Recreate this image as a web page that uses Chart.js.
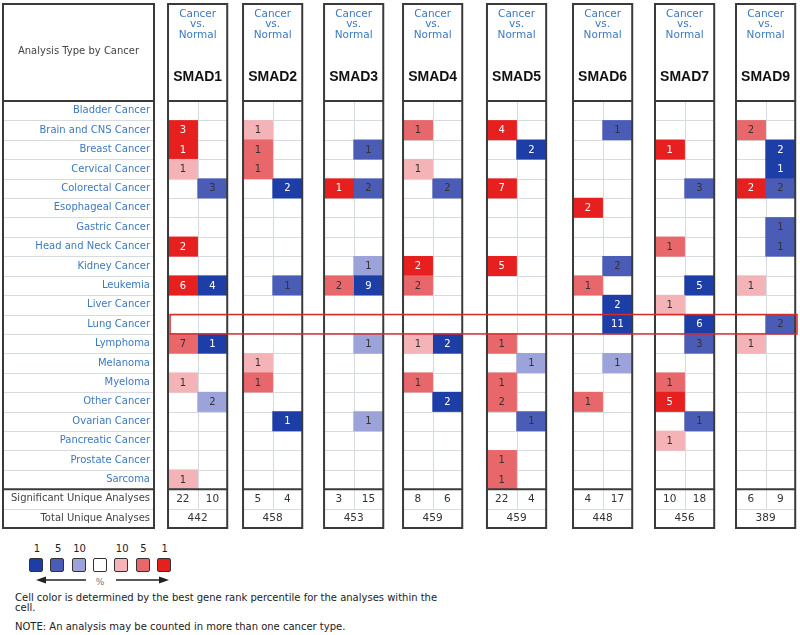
<!DOCTYPE html>
<html>
<head>
<meta charset="utf-8">
<title>SMAD family in Oncomine</title>
<script src="https://cdn.jsdelivr.net/npm/chart.js@4.4.1/dist/chart.umd.min.js"></script>
<style>
  body { margin: 0; background: #fff; font-family: "DejaVu Sans", sans-serif; }
  #wrap { position: relative; width: 800px; height: 635px; overflow: hidden; }
  #chart { position: absolute; left: 0; top: 0; }
  .kl { position: absolute; top: 543px; width: 20px; margin-left: -10px; text-align: center; font-size: 10px; color: #222; }
  .sw { position: absolute; top: 558px; width: 12px; height: 12px; border: 1.5px solid #333; border-radius: 2px; }
  .txt { position: absolute; left: 15px; font-size: 10px; line-height: 9.5px; color: #222; white-space: nowrap; }
</style>
</head>
<body>
<div id="wrap">
  <canvas id="chart" width="800" height="532"></canvas>
  <div id="key"></div>
  <svg style="position:absolute;left:0;top:574px" width="180" height="14">
    <line x1="44" y1="6" x2="86" y2="6" stroke="#222" stroke-width="1.5"/>
    <polygon points="36,6 46,2.5 46,9.5" fill="#222"/>
    <line x1="116" y1="6" x2="160" y2="6" stroke="#222" stroke-width="1.5"/>
    <polygon points="169,6 159,2.5 159,9.5" fill="#222"/>
    <text x="100" y="11" font-size="9" fill="#777" text-anchor="middle" font-family="DejaVu Sans">%</text>
  </svg>
  <div class="txt" style="top:593px">Cell color is determined by the best gene rank percentile for the analyses within the<br>cell.</div>
  <div class="txt" style="top:622px">NOTE: An analysis may be counted in more than one cancer type.</div>
</div>
<script>
const cancers = ['Bladder Cancer', 'Brain and CNS Cancer', 'Breast Cancer', 'Cervical Cancer',
  'Colorectal Cancer', 'Esophageal Cancer', 'Gastric Cancer', 'Head and Neck Cancer',
  'Kidney Cancer', 'Leukemia', 'Liver Cancer', 'Lung Cancer', 'Lymphoma', 'Melanoma',
  'Myeloma', 'Other Cancer', 'Ovarian Cancer', 'Pancreatic Cancer', 'Prostate Cancer', 'Sarcoma'];
const genes = ['SMAD1', 'SMAD2', 'SMAD3', 'SMAD4', 'SMAD5', 'SMAD6', 'SMAD7', 'SMAD9'];

// number of significant analyses per cancer type (0 = none), red = over, blue = under
// *Rank = best gene rank percentile in the cell (1, 5 or 10 %)
const smad1Up       = [0,3,1,1,0,0,0,2,0,6,0,0,7,0,1,0,0,0,0,1];
const smad1UpRank   = [0,1,1,10,0,0,0,1,0,1,0,0,5,0,10,0,0,0,0,10];
const smad1Down     = [0,0,0,0,3,0,0,0,0,4,0,0,1,0,0,2,0,0,0,0];
const smad1DownRank = [0,0,0,0,5,0,0,0,0,1,0,0,1,0,0,10,0,0,0,0];

const smad2Up       = [0,1,1,1,0,0,0,0,0,0,0,0,0,1,1,0,0,0,0,0];
const smad2UpRank   = [0,10,5,5,0,0,0,0,0,0,0,0,0,10,5,0,0,0,0,0];
const smad2Down     = [0,0,0,0,2,0,0,0,0,1,0,0,0,0,0,0,1,0,0,0];
const smad2DownRank = [0,0,0,0,1,0,0,0,0,5,0,0,0,0,0,0,1,0,0,0];

const smad3Up       = [0,0,0,0,1,0,0,0,0,2,0,0,0,0,0,0,0,0,0,0];
const smad3UpRank   = [0,0,0,0,1,0,0,0,0,5,0,0,0,0,0,0,0,0,0,0];
const smad3Down     = [0,0,1,0,2,0,0,0,1,9,0,0,1,0,0,0,1,0,0,0];
const smad3DownRank = [0,0,5,0,5,0,0,0,10,1,0,0,10,0,0,0,10,0,0,0];

const smad4Up       = [0,1,0,1,0,0,0,0,2,2,0,0,1,0,1,0,0,0,0,0];
const smad4UpRank   = [0,5,0,10,0,0,0,0,1,5,0,0,10,0,5,0,0,0,0,0];
const smad4Down     = [0,0,0,0,2,0,0,0,0,0,0,0,2,0,0,2,0,0,0,0];
const smad4DownRank = [0,0,0,0,5,0,0,0,0,0,0,0,1,0,0,1,0,0,0,0];

const smad5Up       = [0,4,0,0,7,0,0,0,5,0,0,0,1,0,1,2,0,0,1,1];
const smad5UpRank   = [0,1,0,0,1,0,0,0,1,0,0,0,5,0,5,5,0,0,5,5];
const smad5Down     = [0,0,2,0,0,0,0,0,0,0,0,0,0,1,0,0,1,0,0,0];
const smad5DownRank = [0,0,1,0,0,0,0,0,0,0,0,0,0,10,0,0,5,0,0,0];

const smad6Up       = [0,0,0,0,0,2,0,0,0,1,0,0,0,0,0,1,0,0,0,0];
const smad6UpRank   = [0,0,0,0,0,1,0,0,0,5,0,0,0,0,0,5,0,0,0,0];
const smad6Down     = [0,1,0,0,0,0,0,0,2,0,2,11,0,1,0,0,0,0,0,0];
const smad6DownRank = [0,5,0,0,0,0,0,0,5,0,1,1,0,10,0,0,0,0,0,0];

const smad7Up       = [0,0,1,0,0,0,0,1,0,0,1,0,0,0,1,5,0,1,0,0];
const smad7UpRank   = [0,0,1,0,0,0,0,5,0,0,10,0,0,0,5,1,0,10,0,0];
const smad7Down     = [0,0,0,0,3,0,0,0,0,5,0,6,3,0,0,0,1,0,0,0];
const smad7DownRank = [0,0,0,0,5,0,0,0,0,1,0,1,5,0,0,0,5,0,0,0];

const smad9Up       = [0,2,0,0,2,0,0,0,0,1,0,0,1,0,0,0,0,0,0,0];
const smad9UpRank   = [0,5,0,0,1,0,0,0,0,10,0,0,10,0,0,0,0,0,0,0];
const smad9Down     = [0,0,2,1,2,0,1,1,0,0,0,2,0,0,0,0,0,0,0,0];
const smad9DownRank = [0,0,1,1,5,0,5,5,0,0,0,5,0,0,0,0,0,0,0,0];

const sigUp   = [22, 5, 3, 8, 22, 4, 10, 6];
const sigDown = [10, 4, 15, 6, 4, 17, 18, 9];
const totals  = [442, 458, 453, 459, 459, 448, 456, 389];
const keyLabels = ['1', '5', '10', '', '10', '5', '1'];

const upCounts = [smad1Up, smad2Up, smad3Up, smad4Up, smad5Up, smad6Up, smad7Up, smad9Up];
const upRanks = [smad1UpRank, smad2UpRank, smad3UpRank, smad4UpRank, smad5UpRank, smad6UpRank, smad7UpRank, smad9UpRank];
const downCounts = [smad1Down, smad2Down, smad3Down, smad4Down, smad5Down, smad6Down, smad7Down, smad9Down];
const downRanks = [smad1DownRank, smad2DownRank, smad3DownRank, smad4DownRank, smad5DownRank, smad6DownRank, smad7DownRank, smad9DownRank];

const rowLabels = cancers.concat(['Significant Unique Analyses', 'Total Unique Analyses']);

// layout: where each gene box starts on the x scale (the panels are not evenly spaced)
const slotPos = [0, 0.925, 1.924, 2.898, 3.933, 4.994, 6.005, 7.004];
const BOX = 0.73;          // gene box width in gene slots
const HALF = BOX / 2;
const reds = { 1: '#e6201f', 5: '#e8676b', 10: '#f4b3b6' };
const blues = { 1: '#1d3ea6', 5: '#4b5cb6', 10: '#9ba3da' };
const LABEL_BLUE = '#3b79c2';

// key swatches below the chart
const keyColors = [blues[1], blues[5], blues[10], '#ffffff', reds[10], reds[5], reds[1]];
const key = document.getElementById('key');
keyColors.forEach((c, i) => {
  const sw = document.createElement('div');
  sw.className = 'sw';
  sw.style.left = (29 + i * 21.3) + 'px';
  sw.style.background = c;
  key.appendChild(sw);
  const lb = document.createElement('div');
  lb.className = 'kl';
  lb.style.left = (37 + i * 21.3) + 'px';
  lb.textContent = keyLabels[i];
  key.appendChild(lb);
});

function cells(counts, ranks, side) {
  const pts = [];
  counts.forEach((col, g) => {
    const g0 = slotPos[g];
    col.forEach((n, r) => {
      if (n > 0) pts.push({ y: r, x: [g0 + side * HALF, g0 + (side + 1) * HALF], n: n, rank: ranks[g][r] });
    });
  });
  return pts;
}

const gridPlugin = {
  id: 'oncoGrid',
  beforeDatasetsDraw(chart) {
    const { ctx, scales: { x, y }, chartArea } = chart;
    const py = v => y.getPixelForValue(v);
    ctx.save();
    ctx.strokeStyle = '#d6dbe0';
    ctx.lineWidth = 1;
    const boxes = [[3, chartArea.left - 3]];
    slotPos.forEach(s => boxes.push([x.getPixelForValue(s), x.getPixelForValue(s + BOX)]));
    boxes.forEach(([l, r]) => {
      for (let i = 0; i < cancers.length - 1; i++) {
        ctx.beginPath(); ctx.moveTo(l, Math.round(py(i + 0.5)) + 0.5); ctx.lineTo(r, Math.round(py(i + 0.5)) + 0.5); ctx.stroke();
      }
      ctx.beginPath(); ctx.moveTo(l, Math.round(py(20.5)) + 0.5); ctx.lineTo(r, Math.round(py(20.5)) + 0.5); ctx.stroke();
    });
    slotPos.forEach(s => {
      const xm = Math.round(x.getPixelForValue(s + HALF)) + 0.5;
      ctx.beginPath(); ctx.moveTo(xm, py(-0.5)); ctx.lineTo(xm, py(20.5)); ctx.stroke();
    });
    ctx.restore();
  },
  afterDatasetsDraw(chart) {
    const { ctx, scales: { x, y }, chartArea } = chart;
    const py = v => y.getPixelForValue(v);
    ctx.save();
    // numbers inside cells
    ctx.textAlign = 'center';
    ctx.textBaseline = 'middle';
    ctx.font = '10px "DejaVu Sans"';
    chart.data.datasets.forEach((ds, i) => {
      chart.getDatasetMeta(i).data.forEach((bar, j) => {
        const d = ds.data[j];
        ctx.fillStyle = d.rank === 1 ? '#ffffff' : '#333333';
        ctx.fillText(String(d.n), (bar.x + bar.base) / 2, bar.y + 0.5);
      });
    });
    // header, summary rows and frames
    const top = py(-5.5), bottom = py(21.5);
    const frame = (l, r) => {
      ctx.strokeStyle = '#3a3a3a';
      ctx.lineWidth = 2;
      ctx.strokeRect(l, top, r - l, bottom - top);
      [-0.5, 19.5].forEach(v => {
        ctx.beginPath(); ctx.moveTo(l, py(v)); ctx.lineTo(r, py(v)); ctx.stroke();
      });
    };
    frame(3, chartArea.left - 3);
    ctx.fillStyle = '#444';
    ctx.font = '10px "DejaVu Sans"';
    ctx.fillText('Analysis Type by Cancer', (3 + chartArea.left - 3) / 2, top + 47);
    genes.forEach((gene, g) => {
      const s = slotPos[g];
      const l = x.getPixelForValue(s), r = x.getPixelForValue(s + BOX);
      const c = (l + r) / 2;
      frame(l, r);
      ctx.fillStyle = LABEL_BLUE;
      ctx.font = '10.5px "DejaVu Sans"';
      ctx.fillText('Cancer', c, top + 10);
      ctx.fillText('vs.', c, top + 20.5);
      ctx.fillText('Normal', c, top + 31);
      ctx.fillStyle = '#111';
      ctx.font = 'bold 14px "Liberation Sans"';
      ctx.fillText(gene, c, top + 73);
      ctx.fillStyle = '#333';
      ctx.font = '10.5px "DejaVu Sans"';
      ctx.fillText(String(sigUp[g]), x.getPixelForValue(s + HALF / 2), py(20));
      ctx.fillText(String(sigDown[g]), x.getPixelForValue(s + HALF * 1.5), py(20));
      ctx.fillText(String(totals[g]), c, py(21));
    });
    // highlighted lung cancer row
    ctx.strokeStyle = '#d42b2b';
    ctx.lineWidth = 1.5;
    const hl = x.getPixelForValue(0) + 2;
    ctx.strokeRect(hl, py(10.5), chartArea.right - 3 - hl, py(11.5) - py(10.5));
    ctx.restore();
  }
};

Chart.defaults.font.family = '"DejaVu Sans", sans-serif';

new Chart(document.getElementById('chart'), {
  type: 'bar',
  data: {
    datasets: [
      { label: 'Over-expression', data: cells(upCounts, upRanks, 0), backgroundColor: c => reds[c.raw.rank] },
      { label: 'Under-expression', data: cells(downCounts, downRanks, 1), backgroundColor: c => blues[c.raw.rank] }
    ]
  },
  options: {
    indexAxis: 'y',
    responsive: false,
    animation: false,
    grouped: false,
    barPercentage: 1,
    categoryPercentage: 1,
    layout: { padding: { top: 4, bottom: 4, left: 0, right: 0 } },
    scales: {
      x: { type: 'linear', display: false, offset: false, min: -0.136, max: 7.793 },
      y: {
        type: 'linear', reverse: true, offset: false, min: -5.5, max: 21.5,
        afterBuildTicks: s => { s.ticks = rowLabels.map((_, i) => ({ value: i })); },
        afterFit: s => { s.width = 157; s.paddingTop = 0; s.paddingBottom = 0; },
        grid: { display: false, drawTicks: false, offset: false },
        border: { display: false },
        ticks: {
          autoSkip: false,
          padding: 7,
          font: { size: 10 },
          color: c => (c.index < cancers.length ? LABEL_BLUE : '#444'),
          callback: v => rowLabels[v]
        }
      }
    },
    plugins: { legend: { display: false }, tooltip: { enabled: false } }
  },
  plugins: [gridPlugin]
});
</script>
</body>
</html>
